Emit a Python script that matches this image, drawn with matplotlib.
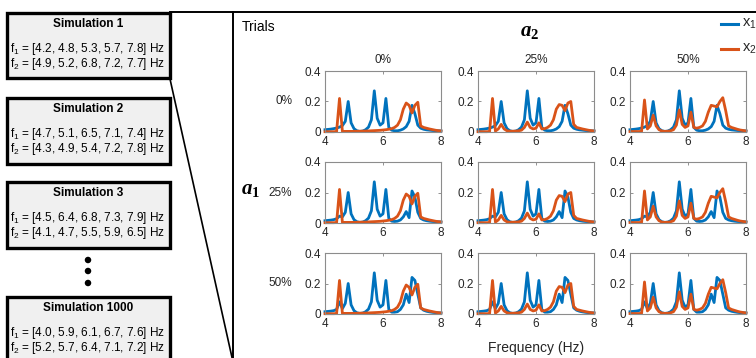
import numpy as np
import matplotlib
matplotlib.use("Agg")
import matplotlib.pyplot as plt
from matplotlib.patches import Rectangle, Ellipse
from matplotlib.lines import Line2D

plt.rcParams['font.family'] = ['Liberation Sans', 'DejaVu Sans']
plt.rcParams['mathtext.default'] = 'regular'
plt.rcParams['mathtext.fontset'] = 'custom'
plt.rcParams['mathtext.bf'] = 'Liberation Serif:bold'
plt.rcParams['mathtext.bfit'] = 'Liberation Serif:italic:bold'

# frequency grid (Hz)
freq = [4.0, 4.1, 4.2, 4.3, 4.4, 4.5, 4.6, 4.7, 4.8, 4.9,
        5.0, 5.1, 5.2, 5.3, 5.4, 5.5, 5.6, 5.7, 5.8, 5.9,
        6.0, 6.1, 6.2, 6.3, 6.4, 6.5, 6.6, 6.7, 6.8, 6.9,
        7.0, 7.1, 7.2, 7.3, 7.4, 7.5, 7.6, 7.7, 7.8, 7.9, 8.0]

# x1 spectra, one per a1 level (rows)
x1_a1_0 = [0.015, 0.017, 0.019, 0.022, 0.026, 0.032, 0.042, 0.07, 0.20, 0.06,
           0.022, 0.008, 0.004, 0.006, 0.015, 0.032, 0.08, 0.27, 0.09, 0.045,
           0.06, 0.22, 0.03, 0.012, 0.008, 0.008, 0.012, 0.02, 0.035, 0.07,
           0.175, 0.12, 0.045, 0.025, 0.018, 0.014, 0.012, 0.01, 0.009, 0.008, 0.007]
x1_a1_25 = [0.015, 0.017, 0.019, 0.022, 0.028, 0.045, 0.04, 0.07, 0.20, 0.06,
            0.022, 0.008, 0.004, 0.006, 0.015, 0.032, 0.08, 0.27, 0.09, 0.045,
            0.06, 0.22, 0.03, 0.012, 0.01, 0.012, 0.02, 0.04, 0.075, 0.035,
            0.21, 0.17, 0.07, 0.03, 0.02, 0.015, 0.012, 0.01, 0.009, 0.008, 0.007]
x1_a1_50 = [0.015, 0.017, 0.019, 0.022, 0.03, 0.08, 0.035, 0.07, 0.20, 0.06,
            0.022, 0.008, 0.004, 0.006, 0.015, 0.032, 0.08, 0.27, 0.09, 0.045,
            0.06, 0.22, 0.03, 0.012, 0.012, 0.015, 0.03, 0.06, 0.13, 0.075,
            0.24, 0.22, 0.13, 0.04, 0.025, 0.018, 0.014, 0.011, 0.009, 0.008, 0.007]

# x2 spectra, one per a2 level (columns)
x2_a2_0 = [0.002, 0.002, 0.002, 0.002, 0.003, 0.22, 0.004, 0.004, 0.004, 0.004,
           0.004, 0.005, 0.005, 0.006, 0.006, 0.007, 0.008, 0.009, 0.01, 0.011,
           0.013, 0.015, 0.018, 0.022, 0.03, 0.045, 0.08, 0.15, 0.19, 0.175,
           0.125, 0.175, 0.195, 0.04, 0.03, 0.025, 0.02, 0.016, 0.012, 0.009, 0.007]
x2_a2_25 = [0.002, 0.002, 0.002, 0.002, 0.003, 0.22, 0.006, 0.02, 0.05, 0.02,
            0.008, 0.005, 0.005, 0.006, 0.008, 0.012, 0.03, 0.065, 0.03, 0.02,
            0.025, 0.06, 0.02, 0.022, 0.03, 0.045, 0.08, 0.15, 0.18, 0.175,
            0.14, 0.19, 0.20, 0.05, 0.03, 0.025, 0.02, 0.016, 0.012, 0.009, 0.007]
x2_a2_50 = [0.003, 0.003, 0.003, 0.003, 0.004, 0.21, 0.02, 0.04, 0.11, 0.04,
            0.015, 0.006, 0.004, 0.005, 0.008, 0.015, 0.045, 0.145, 0.05, 0.03,
            0.04, 0.13, 0.03, 0.025, 0.03, 0.04, 0.07, 0.13, 0.175, 0.17,
            0.165, 0.20, 0.225, 0.14, 0.04, 0.03, 0.024, 0.018, 0.013, 0.01, 0.007]

x1_rows = [x1_a1_0, x1_a1_25, x1_a1_50]
x2_cols = [x2_a2_0, x2_a2_25, x2_a2_50]
levels = ['0%', '25%', '50%']

sim_names = ['Simulation 1', 'Simulation 2', 'Simulation 3', 'Simulation 1000']
sim_f1 = ['[4.2, 4.8, 5.3, 5.7, 7.8]', '[4.7, 5.1, 6.5, 7.1, 7.4]',
          '[4.5, 6.4, 6.8, 7.3, 7.9]', '[4.0, 5.9, 6.1, 6.7, 7.6]']
sim_f2 = ['[4.9, 5.2, 6.8, 7.2, 7.7]', '[4.3, 4.9, 5.4, 7.2, 7.8]',
          '[4.1, 4.7, 5.5, 5.9, 6.5]', '[5.2, 5.7, 6.4, 7.1, 7.2]']

W, H = 756, 358
BLUE = '#0072BD'
ORANGE = '#D95319'
TICK = '#262626'


def fx(px):
    return px / W


def fy(py):
    return 1 - py / H


fig = plt.figure(figsize=(W / 100, H / 100), dpi=100)

# ---- simulation boxes on the left ----
box_tops = [13, 98, 182, 297]
box_bottoms = [78, 164, 248, 380]
for name, f1, f2, top, bot in zip(sim_names, sim_f1, sim_f2, box_tops, box_bottoms):
    fig.add_artist(Rectangle((fx(7), fy(bot)), fx(170) - fx(7), fy(top) - fy(bot),
                             transform=fig.transFigure, facecolor='#f0f0f0',
                             edgecolor='black', linewidth=2.4, clip_on=False))
    fig.text(fx(88), fy(top + 11), name, ha='center', va='center',
             fontsize=8.5, fontweight='bold')
    fig.text(fx(88), fy(top + 36), 'f$_1$ = ' + f1 + ' Hz', ha='center', va='center',
             fontsize=8.5)
    fig.text(fx(88), fy(top + 51), 'f$_2$ = ' + f2 + ' Hz', ha='center', va='center',
             fontsize=8.5)

# ellipsis dots
for dy in [260, 271, 283]:
    fig.add_artist(Ellipse((fx(88), fy(dy)), 6.5 / W, 6.5 / H, transform=fig.transFigure,
                           facecolor='black', edgecolor='none'))

# zoom connector and frame
fig.add_artist(Line2D([fx(170), fx(756)], [fy(12), fy(12)], color='black', lw=1.4,
                      transform=fig.transFigure))
fig.add_artist(Line2D([fx(170), fx(233)], [fy(79), fy(362)], color='black', lw=1.2,
                      transform=fig.transFigure))
fig.add_artist(Line2D([fx(233.5), fx(233.5)], [fy(12), fy(360)], color='black', lw=1.4,
                      transform=fig.transFigure))

fig.text(fx(242), fy(27), 'Trials', ha='left', va='center', fontsize=10)
fig.text(fx(530), fy(33), r'$\mathbfit{a}_{\mathbf{2}}$', ha='center', va='center',
         fontsize=15)
fig.text(fx(251), fy(191), r'$\mathbfit{a}_{\mathbf{1}}$', ha='center', va='center',
         fontsize=15)

# ---- 3 x 3 grid of spectra ----
col_left = [325, 478, 630]
row_top = [71, 162, 253]
ax_w, ax_h = 116, 61

for r in range(3):
    for c in range(3):
        ax = fig.add_axes([fx(col_left[c]), fy(row_top[r] + ax_h), ax_w / W, ax_h / H])
        ax.plot(freq, x1_rows[r], color=BLUE, lw=2.0, clip_on=False)
        ax.plot(freq, x2_cols[c], color=ORANGE, lw=2.0, clip_on=False)
        ax.set_xlim(4, 8)
        ax.set_ylim(0, 0.4)
        ax.set_xticks([4, 6, 8])
        ax.set_yticks([0, 0.2, 0.4])
        ax.set_yticklabels(['0', '0.2', '0.4'])
        ax.tick_params(direction='in', length=2.5, width=0.6, top=True, right=True,
                       labelsize=8.5, labelcolor=TICK, color='#808080', pad=3)
        for s in ax.spines.values():
            s.set_color('#8c8c8c')
            s.set_linewidth(0.8)

for c in range(3):
    fig.text(fx(col_left[c] + ax_w / 2), fy(60), levels[c], ha='center', va='center',
             fontsize=8.5, color=TICK)
for r in range(3):
    fig.text(fx(292), fy(row_top[r] + ax_h / 2), levels[r], ha='right', va='center',
             fontsize=8.5, color=TICK)

fig.text(fx(536), fy(348), 'Frequency (Hz)', ha='center', va='center', fontsize=10,
         color=TICK)

# legend at top right
fig.add_artist(Line2D([fx(721), fx(738)], [fy(24), fy(24)], color=BLUE, lw=2.2,
                      transform=fig.transFigure))
fig.add_artist(Line2D([fx(721), fx(738)], [fy(49), fy(49)], color=ORANGE, lw=2.2,
                      transform=fig.transFigure))
fig.text(fx(742), fy(24), 'x$_1$', ha='left', va='center', fontsize=10.5, color=TICK)
fig.text(fx(742), fy(49), 'x$_2$', ha='left', va='center', fontsize=10.5, color=TICK)

fig.savefig('out.png', dpi=100)
